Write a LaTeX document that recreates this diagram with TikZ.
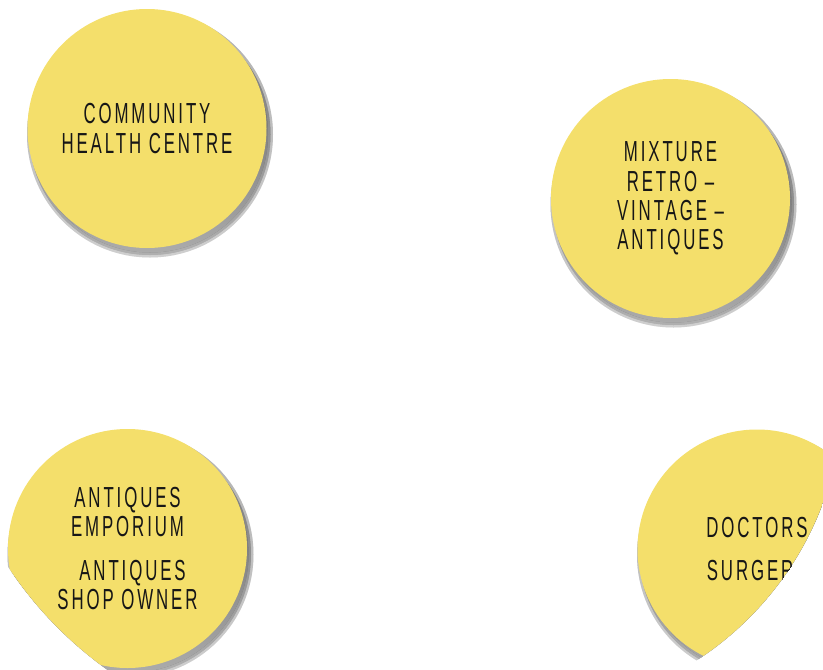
\documentclass[tikz,border=0pt]{standalone}
\usepackage{fontspec}
\setmainfont{Liberation Sans}[FakeStretch=0.58,LetterSpace=10]
\definecolor{sticker}{RGB}{244,223,107}
\definecolor{pen}{RGB}{22,22,22}
\definecolor{shade}{RGB}{185,185,185}
\tikzset{
  every picture/.style={x=1pt, y=-1pt},
  spot/.style={circle, fill=sticker, inner sep=0pt, minimum size=239pt, text=pen, align=center,
    font=\fontsize{29}{29.2}\selectfont},
}
% soft drop shadow under a sticker, drawn at its centre
\newcommand{\spotshadow}[1]{%
  \begin{scope}[shift={(3,6)}]
    \fill[shade, opacity=.25] (#1) circle (123pt);
    \fill[shade, opacity=.4] (#1) circle (120.5pt);
    \fill[shade, opacity=.5] (#1) circle (118pt);
  \end{scope}}

\begin{document}
\begin{tikzpicture}
  \clip (0,0) rectangle (823,670);

  % top row
  \spotshadow{147,128.5}
  \node[spot] (health) at (147,128.5) {COMMUNITY\\HEALTH CENTRE};
  \spotshadow{670.5,198.5}
  \node[spot] (mixture) at (670.5,198.5) {MIXTURE\\RETRO –\\VINTAGE –\\ANTIQUES};

  % bottom row, both cut by a larger disc
  \begin{scope}
    \clip (334.2,351.7) circle (390.6pt);
    \spotshadow{127.5,548.5}
    \node[spot] (emporium) at (127.5,548.5) {ANTIQUES\\EMPORIUM\\[14pt]\hspace*{10pt}ANTIQUES\\SHOP OWNER};
  \end{scope}
  \begin{scope}
    \clip (522,391) circle (321pt);
    \spotshadow{757,549}
    \node[spot] (doctors) at (757,549) {DOCTORS\\[13pt]SURGERY};
  \end{scope}
\end{tikzpicture}
\end{document}
